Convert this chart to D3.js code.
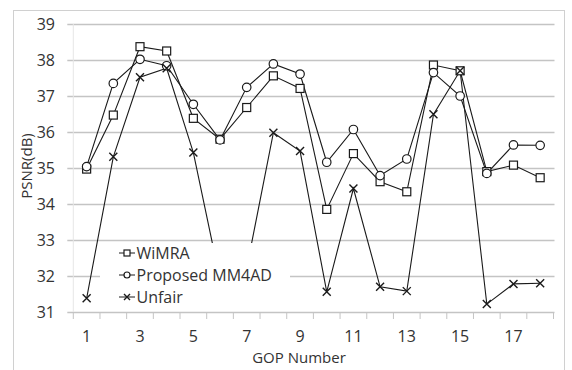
<!DOCTYPE html>
<html><head><meta charset="utf-8">
<script src="https://cdn.jsdelivr.net/npm/d3@7"></script>
<style>
html,body{margin:0;padding:0;background:#fff;}
svg{display:block;font-family:"Open Sans",sans-serif;}
</style></head>
<body>
<svg id="chart" width="572" height="370"></svg>
<script>
const categories = [1,2,3,4,5,6,7,8,9,10,11,12,13,14,15,16,17,18];
const xTickLabels = [1,3,5,7,9,11,13,15,17];
const yTicks = [31,32,33,34,35,36,37,38,39];
const wimra = [34.97,36.47,38.37,38.25,36.38,35.80,36.68,37.56,37.21,33.85,35.40,34.62,34.34,37.86,37.70,34.90,35.08,34.73];
const mm4ad = [35.04,37.35,38.02,37.84,36.77,35.78,37.24,37.89,37.61,35.16,36.07,34.79,35.25,37.65,37.00,34.85,35.64,35.63];
const unfair = [31.38,35.31,37.52,37.77,35.43,31.90,32.22,35.98,35.47,31.56,34.43,31.70,31.58,36.49,37.70,31.22,31.78,31.80];
const seriesNames = ["WiMRA","Proposed MM4AD","Unfair"];
const seriesData = [wimra, mm4ad, unfair];
const markers = ["square","circle","cross"];

const svg = d3.select("#chart");
const x0 = 73.3, x1 = 553.5, yTop = 24, yBot = 312;
const x = d3.scaleBand().domain(categories).range([x0, x1]).padding(0);
const y = d3.scaleLinear().domain([31, 39]).range([yBot, yTop]);
const textColor = "#333333";

// outer border
svg.append("rect").attr("x",13.5).attr("y",10.5).attr("width",551).attr("height",370)
  .attr("fill","none").attr("stroke","#d0d0d0").attr("stroke-width",1);

// gridlines
svg.append("g").selectAll("line").data(yTicks).join("line")
  .attr("x1", x0 - 6).attr("x2", x1 + 1)
  .attr("y1", d => Math.round(y(d)) + 0.5).attr("y2", d => Math.round(y(d)) + 0.5)
  .attr("stroke", "#c4c4c4").attr("stroke-width", 1.3);

// value axis line (faint)
svg.append("line").attr("x1", x0).attr("x2", x0).attr("y1", yTop).attr("y2", yBot)
  .attr("stroke", "#e6e6e6").attr("stroke-width", 1);

// category ticks
const bounds = categories.map(c => x(c)).concat([x(categories[categories.length-1]) + x.bandwidth()]);
svg.append("g").selectAll("line").data(bounds).join("line")
  .attr("x1", d => d).attr("x2", d => d)
  .attr("y1", yBot).attr("y2", yBot + 7)
  .attr("stroke", "#c4c4c4").attr("stroke-width", 1);

// y tick labels
svg.append("g").selectAll("text").data(yTicks).join("text")
  .attr("x", 55).attr("y", d => y(d)).attr("dy", "0.36em")
  .attr("text-anchor", "end").attr("font-size", 16).attr("fill", textColor)
  .text(d => d);

// x tick labels
svg.append("g").selectAll("text").data(xTickLabels).join("text")
  .attr("x", d => x(d) + x.bandwidth()/2).attr("y", 336).attr("dy", "0.36em")
  .attr("text-anchor", "middle").attr("font-size", 16).attr("fill", textColor)
  .text(d => d);

// axis titles
svg.append("text").attr("transform", "translate(27,166) rotate(-90)")
  .attr("text-anchor", "middle").attr("dy", "0.35em").attr("font-size", 15)
  .attr("fill", textColor).text("PSNR(dB)");
svg.append("text").attr("x", 299).attr("y", 358).attr("dy", "0.35em")
  .attr("text-anchor", "middle").attr("font-size", 15).attr("fill", textColor)
  .text("GOP Number");

function drawMarker(g, type, cx, cy, s) {
  if (type === "square") {
    g.append("rect").attr("x", cx - s/2).attr("y", cy - s/2).attr("width", s).attr("height", s)
      .attr("fill", "#fff").attr("stroke", "#1a1a1a").attr("stroke-width", 1.2);
  } else if (type === "circle") {
    g.append("circle").attr("cx", cx).attr("cy", cy).attr("r", s/2)
      .attr("fill", "#fff").attr("stroke", "#1a1a1a").attr("stroke-width", 1.2);
  } else {
    const h = s/2;
    g.append("path").attr("d", `M${cx-h},${cy-h}L${cx+h},${cy+h}M${cx-h},${cy+h}L${cx+h},${cy-h}`)
      .attr("stroke", "#1a1a1a").attr("stroke-width", 1.4).attr("fill", "none");
  }
}

const line = d3.line().x((d,i) => x(categories[i]) + x.bandwidth()/2).y(d => y(d));
const plot = svg.append("g");
seriesData.forEach((vals, si) => {
  plot.append("path").datum(vals).attr("d", line)
    .attr("fill", "none").attr("stroke", "#1a1a1a").attr("stroke-width", 1.1);
});
seriesData.forEach((vals, si) => {
  vals.forEach((v, i) => {
    drawMarker(plot, markers[si], x(categories[i]) + x.bandwidth()/2, y(v), si === 1 ? 8.5 : 8);
  });
});

// legend (white box covering the lines)
const lg = svg.append("g");
lg.append("rect").attr("x", 100).attr("y", 243).attr("width", 190).attr("height", 66).attr("fill", "#fff");
seriesNames.forEach((name, i) => {
  const cy = 253 + i * 22;
  lg.append("line").attr("x1", 119).attr("x2", 135).attr("y1", cy).attr("y2", cy)
    .attr("stroke", "#1a1a1a").attr("stroke-width", 1);
  drawMarker(lg, markers[i], 127, cy, 6);
  lg.append("text").attr("x", 136.5).attr("y", cy).attr("dy", "0.36em")
    .attr("font-size", 16).attr("fill", textColor).text(name);
});
</script>
</body></html>
